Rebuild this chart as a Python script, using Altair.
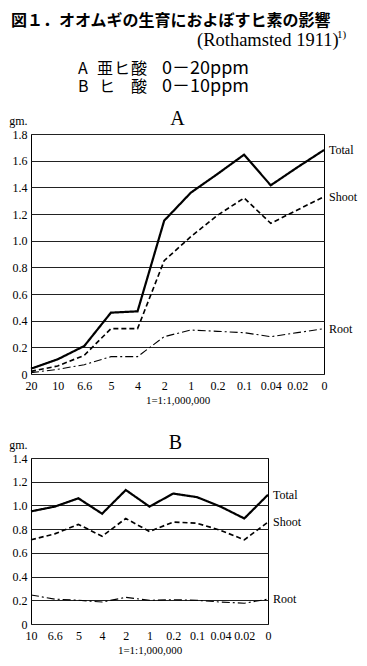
import altair as alt
import pandas as pd

SERIES = ["Total", "Shoot", "Root"]

A_DOSE = ["20", "10", "6.6", "5", "4", "2", "1", "0.2", "0.1", "0.04", "0.02", "0"]
A_TOTAL = [0.04, 0.11, 0.21, 0.46, 0.47, 1.15, 1.36, 1.50, 1.645, 1.415, 1.55, 1.68]
A_SHOOT = [0.02, 0.06, 0.14, 0.34, 0.34, 0.85, 1.03, 1.19, 1.32, 1.13, 1.23, 1.33]
A_ROOT = [0.01, 0.035, 0.07, 0.13, 0.13, 0.28, 0.33, 0.32, 0.31, 0.28, 0.31, 0.34]

B_DOSE = ["10", "6.6", "5", "4", "2", "1", "0.2", "0.1", "0.04", "0.02", "0"]
B_TOTAL = [0.95, 0.99, 1.06, 0.93, 1.13, 0.99, 1.10, 1.07, 0.99, 0.89, 1.09]
B_SHOOT = [0.71, 0.76, 0.84, 0.74, 0.89, 0.78, 0.86, 0.85, 0.79, 0.71, 0.86]
B_ROOT = [0.245, 0.21, 0.20, 0.185, 0.225, 0.20, 0.205, 0.20, 0.185, 0.175, 0.21]

A_YTICKS = [0, 0.2, 0.4, 0.6, 0.8, 1.0, 1.2, 1.4, 1.6, 1.8]
B_YTICKS = [0, 0.2, 0.4, 0.6, 0.8, 1.0, 1.2, 1.4]

TITLE_TEXT = "図１．オオムギの生育におよぼすヒ素の影響"
SOURCE_TEXT = "(Rothamsted 1911)"
SOURCE_SUP = "1)"
HEAD_LABELS = ["A", "亜", "ヒ", "酸", "0－20ppm", "B", "ヒ", "酸", "0－10ppm"]

SERIF = "Liberation Serif"
CJK = "Noto Sans CJK JP"


def long_table(doses, total, shoot, root):
    rows = []
    for name, vals in zip(SERIES, [total, shoot, root]):
        for i, (d, v) in enumerate(zip(doses, vals)):
            rows.append({"dose": d, "value": v, "series": name, "order": i,
                         "last": i == len(doses) - 1})
    return pd.DataFrame(rows)


def panel(df, doses, yticks, width, height, title, title_dx):
    x = alt.X("dose:N", sort=doses,
              scale=alt.Scale(type="point", padding=0, domain=doses),
              axis=alt.Axis(title="1=1:1,000,000", labelAngle=0, tickSize=0,
                            labelPadding=6, titlePadding=3, labelOverlap=False,
                            labelFlush=False, domain=False,
                            gridColor="#222", gridWidth=1, gridOpacity=1,
                            labelFont=SERIF, labelFontSize=12, labelColor="black",
                            titleFont=SERIF, titleFontSize=11, titleFontWeight="normal",
                            titleColor="black"))
    y = alt.Y("value:Q",
              scale=alt.Scale(domain=[0, yticks[-1]], nice=False, zero=True),
              axis=alt.Axis(values=yticks, title="gm.", titleAngle=0,
                            titleX=-4, titleY=-7, titleAlign="right",
                            titleBaseline="bottom",
                            labelExpr="datum.value == 0 ? '0' : format(datum.value, '.1f')",
                            tickSize=0, labelPadding=4, domain=False,
                            gridColor="#222", gridWidth=1, gridOpacity=1,
                            labelFont=SERIF, labelFontSize=12, labelColor="black",
                            titleFont=SERIF, titleFontSize=12, titleFontWeight="normal",
                            titleColor="black"))
    lines = alt.Chart(df).mark_line(color="black").encode(
        x=x, y=y,
        detail="series:N",
        order=alt.Order("order:Q"),
        strokeWidth=alt.StrokeWidth("series:N", legend=None,
                                    scale=alt.Scale(domain=SERIES, range=[2.2, 1.1, 1.3])),
        strokeDash=alt.StrokeDash("series:N", legend=None,
                                  scale=alt.Scale(domain=SERIES,
                                                  range=[[1, 0], [5, 3], [8, 3, 2, 3]])),
    )
    labels = alt.Chart(df).transform_filter("datum.last").mark_text(
        align="left", baseline="middle", dx=5, font=SERIF, fontSize=12, color="black"
    ).encode(x=x, y=y, text="series:N")
    return alt.layer(lines, labels).properties(
        width=width, height=height,
        view=alt.ViewBackground(stroke="black", strokeWidth=1),
        title=alt.TitleParams(title, dx=title_dx, offset=-15, font=SERIF, fontSize=20,
                              fontWeight="normal", color="black"),
    )


dfA = long_table(A_DOSE, A_TOTAL, A_SHOOT, A_ROOT)
dfB = long_table(B_DOSE, B_TOTAL, B_SHOOT, B_ROOT)

chartA = panel(dfA, A_DOSE, A_YTICKS, 293, 240, "A", 0)
chartB = panel(dfB, B_DOSE, B_YTICKS, 237, 166, "B", 26)

# header (annotation text)
head_title = pd.DataFrame({"t": [TITLE_TEXT], "x": [-20], "y": [13]})
head_src = pd.DataFrame({"t": [SOURCE_TEXT], "x": [166], "y": [32]})
head_sup = pd.DataFrame({"t": [SOURCE_SUP], "x": [306], "y": [27]})
head_rows = pd.DataFrame({
    "t": HEAD_LABELS,
    "x": [47, 66, 83, 100, 131, 47, 68, 100, 131],
    "y": [61, 61, 61, 61, 61, 79, 79, 79, 79],
})


def txt(df, **kw):
    return alt.Chart(df).mark_text(align="left", baseline="middle", color="black", **kw).encode(
        x=alt.X("x:Q", scale=None, axis=None),
        y=alt.Y("y:Q", scale=None, axis=None),
        text="t:N",
    )


header = alt.layer(
    txt(head_title, font=CJK, fontSize=16, fontWeight="bold"),
    txt(head_src, font=SERIF, fontSize=18.5),
    txt(head_sup, font=SERIF, fontSize=11),
    txt(head_rows.iloc[[0, 5]], font=CJK, fontSize=16),
    txt(head_rows.iloc[[1, 2, 3, 6, 7]], font=CJK, fontSize=16),
    txt(head_rows.iloc[[4, 8]], font=CJK, fontSize=18),
).properties(width=293, height=88,
             view=alt.ViewBackground(stroke="transparent", strokeWidth=0))

charts = alt.vconcat(chartA, chartB, spacing=26)
chart = alt.vconcat(header, charts, spacing=12).properties(
    padding=0
).configure(background="white")

chart.save("out.html", embed_options={"renderer": "svg", "actions": False})
